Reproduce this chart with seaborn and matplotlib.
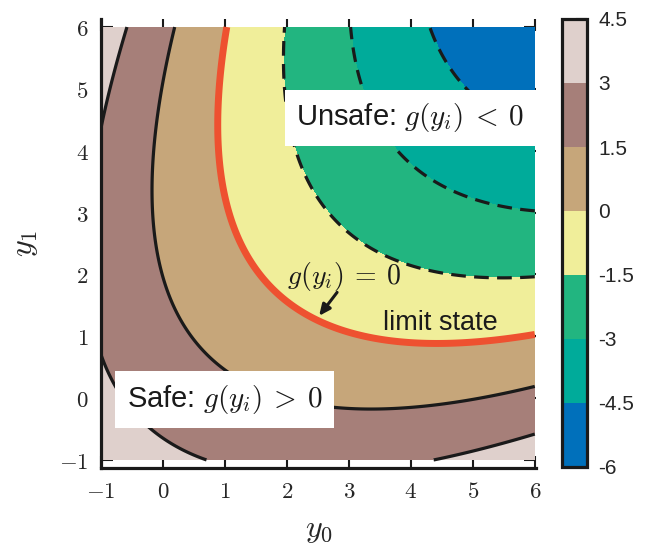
import numpy as np
import matplotlib
matplotlib.use("Agg")
import matplotlib.pyplot as plt
from matplotlib.colors import ListedColormap, BoundaryNorm
import seaborn as sns

# ---- data / model -------------------------------------------------------
y0_range = [-1.0, 6.0]
y1_range = [-1.0, 6.0]
coef_quad = 0.1            # g = a (y0-y1)^2 - (y0+y1)/sqrt(2) + c
coef_lin = 1.0 / np.sqrt(2.0)
coef_const = 2.5

levels = [-6.0, -4.5, -3.0, -1.5, 0.0, 1.5, 3.0, 4.5]
fill_colors = ['#0070bb', '#00ab9a', '#22b580', '#f0ee9a',
               '#c6a67a', '#a67f79', '#dfd0cc']
neg_levels = [-4.5, -3.0, -1.5]
pos_levels = [1.5, 3.0]
limit_level = [0.0]
cbar_labels = ['-6', '-4.5', '-3', '-1.5', '0', '1.5', '3', '4.5']
xticks = [-1, 0, 1, 2, 3, 4, 5, 6]
yticks = [-1, 0, 1, 2, 3, 4, 5, 6]

# ---- style ----------------------------------------------------------------
sns.set_theme(style="ticks")
plt.rcParams['font.family'] = ['Liberation Sans', 'DejaVu Sans']
plt.rcParams['mathtext.fontset'] = 'cm'

y0 = np.linspace(y0_range[0], y0_range[1], 400)
y1 = np.linspace(y1_range[0], y1_range[1], 400)
Y0, Y1 = np.meshgrid(y0, y1)
G = coef_quad * (Y0 - Y1) ** 2 - coef_lin * (Y0 + Y1) + coef_const

fig = plt.figure(figsize=(6.53, 5.44), dpi=100)
ax = fig.add_axes([101 / 653, (544 - 468) / 544, (536 - 101) / 653, (468 - 19) / 544])
cax = fig.add_axes([562 / 653, (544 - 467) / 544, 25 / 653, 448 / 544])

cmap = ListedColormap(fill_colors)
norm = BoundaryNorm(levels, cmap.N)
cf = ax.contourf(Y0, Y1, G, levels=levels, cmap=cmap, norm=norm)
ax.contour(Y0, Y1, G, levels=neg_levels, colors='#1a1a1a', linewidths=2.3,
           linestyles=[(0, (4.6, 2.6))])
ax.contour(Y0, Y1, G, levels=pos_levels, colors='#1a1a1a', linewidths=2.3,
           linestyles='solid')
ax.contour(Y0, Y1, G, levels=limit_level, colors='#ee5130', linewidths=5.0)

ax.set_xlim(-1.0, 6.02)
ax.set_ylim(-1.13, 6.13)
ax.set_xticks(xticks)
ax.set_xticklabels([f"${v}$" for v in xticks])
ax.set_yticks(yticks)
ax.set_yticklabels([f"${v}$" for v in yticks])
ax.tick_params(direction='in', length=8.5, width=1.5, top=True, right=True,
               labelsize=16.5, color='#1a1a1a', pad=9)
for s in ['top', 'right']:
    ax.spines[s].set_visible(False)
for s in ['left', 'bottom']:
    ax.spines[s].set_linewidth(2.3)
    ax.spines[s].set_color('#1a1a1a')

ax.set_xlabel(r"$y_0$", fontsize=23, labelpad=8)
ax.set_ylabel(r"$y_1$", fontsize=23, labelpad=14)

box = dict(facecolor='white', edgecolor='none', boxstyle='square,pad=0.4')
ax.text(3.99, 4.53, r"Unsafe: $g(y_i)\:<\:0$", ha='center', va='center',
        fontsize=21, color='#1a1a1a', bbox=box, zorder=5)
ax.text(1.0, -0.02, r"Safe: $g(y_i)\:>\:0$", ha='center', va='center',
        fontsize=21, color='#1a1a1a', bbox=box, zorder=5)
ax.text(4.47, 1.21, "limit state", ha='center', va='center',
        fontsize=19.5, color='#1a1a1a', zorder=5)
ax.text(2.92, 1.96, r"$g(y_i)\:=\:0$", ha='center', va='center',
        fontsize=20, color='#1a1a1a', zorder=5)
ax.annotate("", xy=(2.52, 1.33), xytext=(2.81, 1.71),
            arrowprops=dict(arrowstyle='-|>,head_length=0.55,head_width=0.25',
                            color='#1a1a1a', lw=2.2, shrinkA=0, shrinkB=0),
            zorder=5)

cb = fig.colorbar(cf, cax=cax, ticks=levels)
cb.ax.set_yticklabels(cbar_labels)
cb.outline.set_linewidth(2.3)
cb.outline.set_edgecolor('#1a1a1a')
cb.ax.tick_params(direction='in', length=8, width=1.5, right=True, left=False,
                  labelsize=15, color='#1a1a1a', pad=8)

fig.savefig("out.png", dpi=100)
